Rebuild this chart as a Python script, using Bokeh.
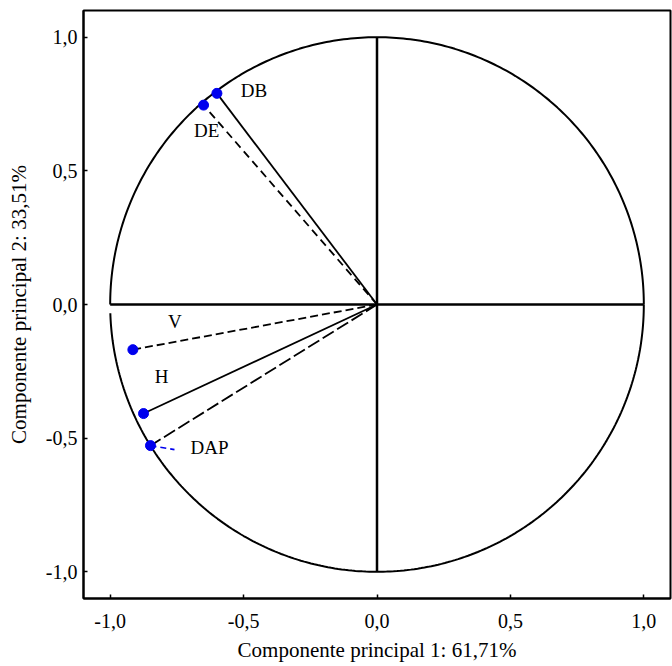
import numpy as np
from bokeh.plotting import figure
from bokeh.models import Range1d, FixedTicker, ColumnDataSource
from bokeh.core.properties import value
from bokeh.embed import file_html
from bokeh.resources import INLINE

# ---- data ----
variables = ["DB", "DE", "V", "H", "DAP"]
pc1 = [-0.600, -0.650, -0.915, -0.875, -0.849]
pc2 = [0.790, 0.746, -0.169, -0.408, -0.528]
tick_values = [-1.0, -0.5, 0.0, 0.5, 1.0]
tick_labels = ["-1,0", "-0,5", "0,0", "0,5", "1,0"]
x_title = "Componente principal 1: 61,71%"
y_title = "Componente principal 2: 33,51%"

# ---- styles ----
line_dashes = ["solid", "8 5", "8 4", "solid", "13 4"]
label_dx = [37, 3, 42, 18, 59]
label_dy = [-3, 25, -28, -37, 2]
FONT = "Liberation Serif"

p = figure(width=672, height=666, output_backend="svg", toolbar_location=None,
           x_range=Range1d(-1.1, 1.1), y_range=Range1d(-1.1, 1.1),
           min_border_left=83, min_border_right=2, min_border_top=10,
           min_border_bottom=68)
p.grid.visible = False
p.outline_line_color = "black"
p.outline_line_width = 2
p.background_fill_color = "white"

for ax, title in ((p.xaxis[0], x_title), (p.yaxis[0], y_title)):
    ax.ticker = FixedTicker(ticks=tick_values)
    ax.major_label_overrides = {v: l for v, l in zip(tick_values, tick_labels)}
    ax.major_tick_in = 4
    ax.major_tick_out = 0
    ax.minor_tick_line_color = None
    ax.axis_line_width = 2
    ax.major_tick_line_width = 1.5
    ax.major_label_text_font = FONT
    ax.major_label_text_font_size = "20px"
    ax.major_label_text_color = "black"
    ax.axis_label = title
    ax.axis_label_text_font = FONT
    ax.axis_label_text_font_size = "21px"
    ax.axis_label_text_font_style = "normal"
    ax.axis_label_text_color = "black"

p.xaxis.major_label_standoff = 15
p.xaxis.axis_label_standoff = 7
p.yaxis.major_label_standoff = 6
p.yaxis.axis_label_standoff = 12
p.yaxis.major_label_orientation = "horizontal"

# unit circle (two arcs, small gap at lower left like the original)
t_up = np.linspace(0, np.pi, 240)
t_lo = np.linspace(np.pi + 0.033, 2 * np.pi, 240)
p.line(np.cos(t_up), np.sin(t_up), line_color="black", line_width=2)
p.line(np.cos(t_lo), np.sin(t_lo), line_color="black", line_width=2)

# axes through origin
p.segment(x0=[-1, 0], y0=[0, -1], x1=[1, 0], y1=[0, 1], line_color="black", line_width=2.5)

# vectors
for x, y, d in zip(pc1, pc2, line_dashes):
    p.line([0, x], [0, y], line_color="black", line_width=1.8, line_dash=d)

# leader for DAP
i = variables.index("DAP")
p.segment(x0=[pc1[i]], y0=[pc2[i]], x1=[pc1[i] + 0.09], y1=[pc2[i] - 0.015],
          line_color="#0000ee", line_width=1.6, line_dash="6 4")

src = ColumnDataSource(dict(x=pc1, y=pc2, name=variables, dx=label_dx, dy=label_dy))
p.scatter("x", "y", source=src, size=10, fill_color="#0000ee", line_color="#0000ee")
p.text("x", "y", text="name", source=src, x_offset="dx", y_offset="dy",
       text_align="center", text_baseline="middle", text_font=value(FONT),
       text_font_size="19px", text_color="black")

open("out.html", "w").write(file_html(p, INLINE))
